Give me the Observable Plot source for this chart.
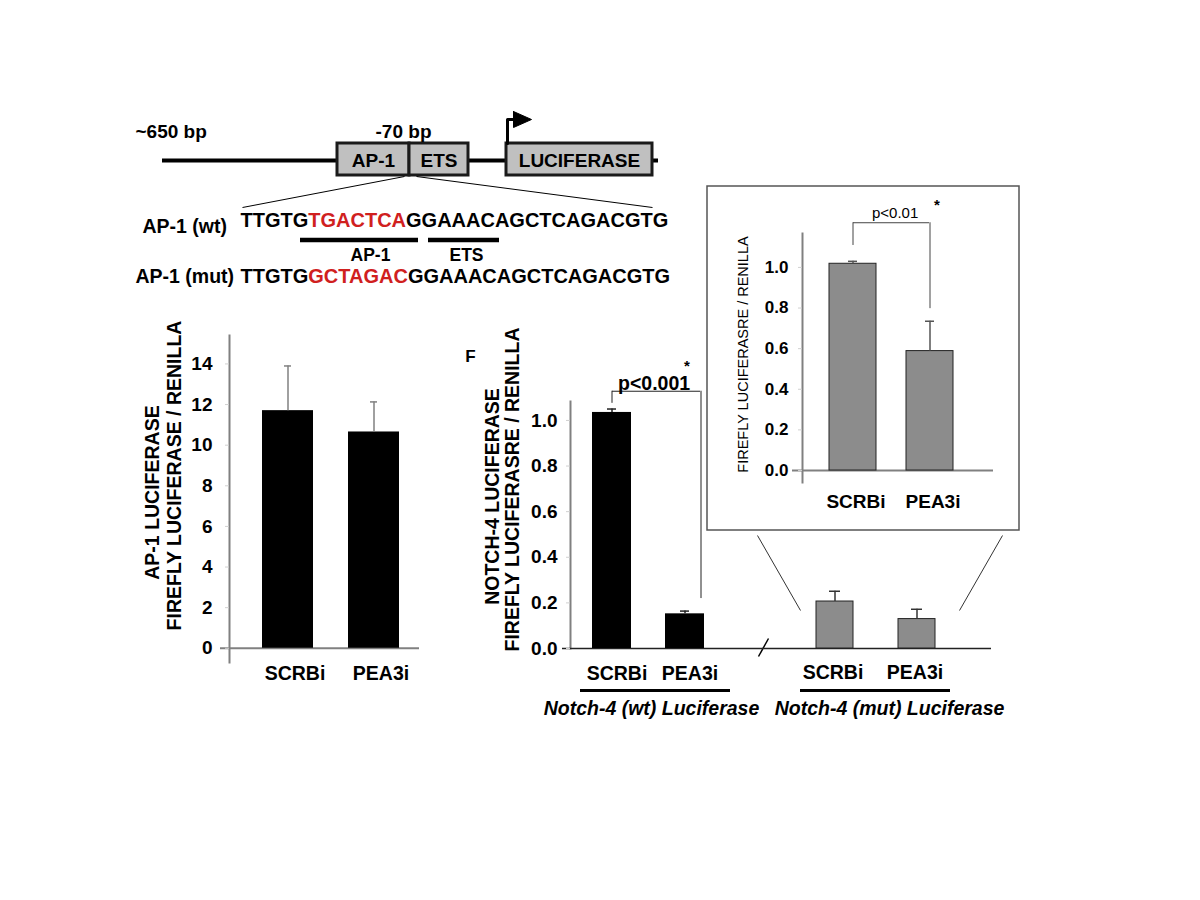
<!DOCTYPE html>
<html><head><meta charset="utf-8">
<script src="https://cdn.jsdelivr.net/npm/d3@7"></script>
<script src="https://cdn.jsdelivr.net/npm/@observablehq/plot@0.6"></script>
<style>
html,body{margin:0;padding:0;background:#fff;}
#root{position:relative;width:1200px;height:900px;overflow:hidden;background:#fff;}
#root svg{position:absolute;}
</style></head><body><div id="root"></div>
<script>
const FONT = '"Liberation Sans", Arial, Helvetica, sans-serif';

// ---------------- data ----------------
const treatments = ["SCRBi", "PEA3i"];
const ap1Values = [11.7, 10.65];
const ap1Errors = [2.2, 1.48];
const ap1Ticks = [0, 2, 4, 6, 8, 10, 12, 14];
const notchWtValues = [1.035, 0.152];
const notchWtErrors = [0.015, 0.012];
const notchMutValues = [0.206, 0.129];
const notchMutErrors = [0.045, 0.043];
const insetValues = [1.018, 0.588];
const insetErrors = [0.012, 0.147];
const notchTicks = [0, 0.2, 0.4, 0.6, 0.8, 1.0];
const seqWt = ["TTGTG", "TGACTCA", "GGAAACAGCTCAGACGTG"];
const seqMut = ["TTGTG", "GCTAGAC", "GGAAACAGCTCAGACGTG"];
const wtBracket = {label: "p<0.001", top: 1.128, leftEnd: 1.075, rightEnd: 0.219};
const insetBracket = {label: "p<0.01", top: 1.22, leftEnd: 1.108, rightEnd: 0.797};
const groupLabels = ["Notch-4 (wt) Luciferase", "Notch-4 (mut) Luciferase"];

const rows = (vals, errs) => treatments.map((t, i) => ({t, v: vals[i], e: errs[i]}));
const ap1 = rows(ap1Values, ap1Errors);
const wt = rows(notchWtValues, notchWtErrors);
const mut = rows(notchMutValues, notchMutErrors);
const inset = rows(insetValues, insetErrors);

const root = document.getElementById("root");
const baseStyle = {background: "transparent", fontFamily: FONT, color: "black", overflow: "visible"};
function place(svg, left, top) {
  svg.style.left = left + "px";
  svg.style.top = top + "px";
  root.append(svg);
}
const f1 = d3.format(".1f");

// ---------------- overlay: schematic & annotations ----------------
const ctx = document.createElement("canvas").getContext("2d");
function segs(parts, x0, y, size) {
  ctx.font = `bold ${size}px ${FONT}`;
  let x = x0;
  return parts.map((s, i) => {
    const o = {text: s, x, y, color: i === 1 ? "#d0201e" : "black"};
    x += ctx.measureText(s).width;
    return o;
  });
}
const seqSegs = [...segs(seqWt, 240, 220.3, 20), ...segs(seqMut, 240, 275.8, 20)];
const boxes = [
  {label: "AP-1", x1: 337, x2: 409},
  {label: "ETS", x1: 409, x2: 468},
  {label: "LUCIFERASE", x1: 506, x2: 652}
];

place(Plot.plot({
  width: 1200, height: 900, margin: 0, style: baseStyle,
  x: {type: "identity", axis: null}, y: {type: "identity", axis: null}, color: {type: "identity"},
  marks: [
    // promoter line and boxes
    Plot.ruleY([160], {x1: 162, x2: 658, stroke: "black", strokeWidth: 4}),
    Plot.rect(boxes, {x1: "x1", x2: "x2", y1: 143, y2: 175, fill: "#c0c0c0", stroke: "#1a1a1a", strokeWidth: 3}),
    Plot.text(boxes, {x: d => (d.x1 + d.x2) / 2, y: 160.5, text: "label", fontSize: 19, fontWeight: "bold"}),
    Plot.line([[507, 143], [507, 119], [515, 119]], {stroke: "black", strokeWidth: 3}),
    Plot.line([[513, 111], [531, 119], [513, 127], [513, 111]], {stroke: "black", fill: "black", strokeWidth: 1}),
    Plot.text(["~650 bp"], {x: 135, y: 131, text: d => d, textAnchor: "start", fontSize: 19, fontWeight: "bold"}),
    Plot.text(["-70 bp"], {x: 403, y: 131, text: d => d, fontSize: 19, fontWeight: "bold"}),
    Plot.link([[404, 176, 242, 207], [416, 176, 652, 207]], {x1: d => d[0], y1: d => d[1], x2: d => d[2], y2: d => d[3], stroke: "black", strokeWidth: 1}),
    // sequences
    Plot.text(seqSegs, {x: "x", y: "y", text: "text", fill: "color", textAnchor: "start", fontSize: 20, fontWeight: "bold"}),
    Plot.text(["AP-1 (wt)"], {x: 142, y: 226, text: d => d, textAnchor: "start", fontSize: 19.5, fontWeight: "bold"}),
    Plot.text(["AP-1 (mut)"], {x: 135, y: 276.5, text: d => d, textAnchor: "start", fontSize: 19.5, fontWeight: "bold"}),
    Plot.ruleY([{a: 300, b: 418}, {a: 428, b: 499}], {y: 239.5, x1: "a", x2: "b", stroke: "black", strokeWidth: 4.5}),
    Plot.text([{t: "AP-1", x: 370}, {t: "ETS", x: 466}], {x: "x", y: 255, text: "t", fontSize: 17.5, fontWeight: "bold"}),
    // axis titles
    Plot.text(["AP-1 LUCIFERASE"], {x: 152, y: 492, text: d => d, rotate: -90, fontSize: 19.5, fontWeight: "bold"}),
    Plot.text(["FIREFLY LUCIFERASE / RENILLA"], {x: 174, y: 475, text: d => d, rotate: -90, fontSize: 19.5, fontWeight: "bold"}),
    Plot.text(["NOTCH-4 LUCIFERASE"], {x: 492, y: 496, text: d => d, rotate: -90, fontSize: 19.5, fontWeight: "bold"}),
    Plot.text(["FIREFLY LUCIFERASRE / RENILLA"], {x: 512, y: 489, text: d => d, rotate: -90, fontSize: 19.5, fontWeight: "bold"}),
    Plot.text(["FIREFLY LUCIFERASRE / RENILLA"], {x: 743, y: 354, text: d => d, rotate: -90, fontSize: 14.5}),
    Plot.text(["F"], {x: 470, y: 356, text: d => d, fontSize: 17, fontWeight: "bold"}),
    // group underlines and labels
    Plot.ruleY([{a: 580, b: 730}, {a: 800, b: 950}], {y: 690, x1: "a", x2: "b", stroke: "black", strokeWidth: 3}),
    Plot.text(groupLabels, {x: (d, i) => [651, 889][i], y: 708, text: d => d, fontSize: 19.5, fontWeight: "bold", fontStyle: "italic"}),
    // axis break
    Plot.link([[758, 656, 768, 638]], {x1: d => d[0], y1: d => d[1], x2: d => d[2], y2: d => d[3], stroke: "black", strokeWidth: 1.5}),
    // inset box and zoom lines
    Plot.rect([{}], {x1: 707, x2: 1019, y1: 186, y2: 530, fill: "none", stroke: "#555", strokeWidth: 1.5}),
    Plot.link([[757, 535, 800, 610], [1002, 535, 959, 610]], {x1: d => d[0], y1: d => d[1], x2: d => d[2], y2: d => d[3], stroke: "#333", strokeWidth: 1})
  ]
}), 0, 0);

// ---------------- AP-1 luciferase chart ----------------
place(Plot.plot({
  width: 320, height: 400, marginTop: 35, marginBottom: 38, marginLeft: 99, marginRight: 18,
  style: baseStyle,
  x: {type: "band", domain: treatments, paddingInner: 0.402, paddingOuter: 0.368, label: null},
  y: {domain: [-0.7, 15.4], label: null},
  marks: [
    Plot.frame({anchor: "left", stroke: "#808080", strokeWidth: 2}),
    Plot.ruleY([0], {stroke: "#808080", strokeWidth: 2, insetLeft: -9, insetRight: 13}),
    Plot.barY(ap1, {x: "t", y: "v", fill: "black"}),
    Plot.ruleX(ap1, {x: "t", y1: "v", y2: d => d.v + d.e, stroke: "#808080", strokeWidth: 1.5}),
    Plot.tickY(ap1, {x: "t", y: d => d.v + d.e, stroke: "#808080", strokeWidth: 1.5, inset: 22}),
    Plot.axisY(ap1Ticks, {tickSize: 4, tickPadding: 13, stroke: "#d0d0d0", fill: "black", fontSize: 19, fontWeight: "bold", label: null}),
    Plot.axisX({tickSize: 0, tickPadding: 4, fill: "black", fontSize: 19.5, fontWeight: "bold", dx: 7, label: null})
  ]
}), 130, 300);

// ---------------- Notch-4 (wt) ----------------
place(Plot.plot({
  width: 320, height: 390, marginTop: 71, marginBottom: 72, marginLeft: 130, marginRight: 34,
  style: baseStyle,
  x: {type: "band", domain: treatments, paddingInner: 0.459, paddingOuter: 0.284, label: null},
  y: {domain: [0, 1.083], label: null},
  marks: [
    Plot.frame({anchor: "left", stroke: "#808080", strokeWidth: 2}),
    Plot.ruleY([0], {stroke: "#222", strokeWidth: 1.5, insetLeft: -8, insetRight: -34}),
    Plot.barY(wt, {x: "t", y: "v", fill: "black"}),
    Plot.ruleX(wt, {x: "t", y1: "v", y2: d => d.v + d.e, stroke: "#222", strokeWidth: 1.5}),
    Plot.tickY(wt, {x: "t", y: d => d.v + d.e, stroke: "#222", strokeWidth: 1.5, inset: 15}),
    // significance bracket (rule spans band start..band end, so inset by half a band)
    Plot.ruleX([treatments[0]], {x: d => d, y1: wtBracket.leftEnd, y2: wtBracket.top, stroke: "#222", strokeWidth: 1}),
    Plot.ruleX([treatments[1]], {x: d => d, y1: wtBracket.rightEnd, y2: wtBracket.top, dx: 16, stroke: "#222", strokeWidth: 1}),
    Plot.ruleY([wtBracket.top], {x1: () => treatments[0], x2: () => treatments[1], insetLeft: 20, insetRight: 4, stroke: "#222", strokeWidth: 1}),
    Plot.text([wtBracket.label], {x: () => treatments[0], y: 1.162, text: d => d, textAnchor: "start", dx: 6, fontSize: 19.5, fontWeight: "bold"}),
    Plot.text(["*"], {x: () => treatments[1], y: 1.24, text: d => d, dx: 2, fontSize: 15, fontWeight: "bold"}),
    Plot.axisY(notchTicks, {tickFormat: f1, tickSize: 4, tickPadding: 9, stroke: "#d0d0d0", fill: "black", fontSize: 19, fontWeight: "bold", label: null}),
    Plot.axisX({tickSize: 0, tickPadding: 18, fill: "black", fontSize: 19.5, fontWeight: "bold", dx: 5, label: null})
  ]
}), 440, 330);

// ---------------- Notch-4 (mut) ----------------
place(Plot.plot({
  width: 250, height: 390, marginTop: 71, marginBottom: 72, marginLeft: 20, marginRight: 40,
  style: baseStyle,
  x: {type: "band", domain: treatments, paddingInner: 0.549, paddingOuter: 0.433, label: null},
  y: {domain: [0, 1.083], axis: null, label: null},
  marks: [
    Plot.ruleY([0], {stroke: "#222", strokeWidth: 1.5, insetLeft: -20, insetRight: -21}),
    Plot.barY(mut, {x: "t", y: "v", fill: "#8c8c8c", stroke: "#222", strokeWidth: 1}),
    Plot.ruleX(mut, {x: "t", y1: "v", y2: d => d.v + d.e, stroke: "#333", strokeWidth: 1.5}),
    Plot.tickY(mut, {x: "t", y: d => d.v + d.e, stroke: "#333", strokeWidth: 1.5, inset: 13}),
    Plot.axisX({tickSize: 0, tickPadding: 17, fill: "black", fontSize: 19.5, fontWeight: "bold", dx: -2, label: null})
  ]
}), 760, 330);

// ---------------- inset (mut, rescaled) ----------------
place(Plot.plot({
  width: 312, height: 344, marginTop: 47, marginBottom: 48, marginLeft: 95, marginRight: 38.5,
  style: baseStyle,
  x: {type: "band", domain: treatments, paddingInner: 0.385, paddingOuter: 0.34, label: null},
  y: {domain: [-0.059, 1.167], label: null},
  marks: [
    Plot.frame({anchor: "left", stroke: "#808080", strokeWidth: 2}),
    Plot.ruleY([0], {stroke: "#808080", strokeWidth: 2, insetLeft: -10, insetRight: -12.5}),
    Plot.barY(inset, {x: "t", y: "v", fill: "#8c8c8c", stroke: "#222", strokeWidth: 1}),
    Plot.ruleX(inset, {x: "t", y1: "v", y2: d => d.v + d.e, stroke: "#555", strokeWidth: 1.5}),
    Plot.tickY(inset, {x: "t", y: d => d.v + d.e, stroke: "#555", strokeWidth: 1.5, inset: 19}),
    Plot.ruleX([treatments[0]], {x: d => d, y1: insetBracket.leftEnd, y2: insetBracket.top, stroke: "#444", strokeWidth: 1}),
    Plot.ruleX([treatments[1]], {x: d => d, y1: insetBracket.rightEnd, y2: insetBracket.top, stroke: "#444", strokeWidth: 1}),
    Plot.ruleY([insetBracket.top], {x1: () => treatments[0], x2: () => treatments[1], insetLeft: 24, insetRight: 24, stroke: "#444", strokeWidth: 1}),
    Plot.text([insetBracket.label], {x: () => treatments[0], y: 1.266, text: d => d, textAnchor: "start", dx: 19, fontSize: 15}),
    Plot.text(["*"], {x: () => treatments[1], y: 1.305, text: d => d, dx: 7, fontSize: 15, fontWeight: "bold"}),
    Plot.axisY(notchTicks, {tickFormat: f1, tickSize: 4, tickPadding: 10, stroke: "#d0d0d0", fill: "black", fontSize: 17, fontWeight: "bold", label: null}),
    Plot.axisX({tickSize: 0, tickPadding: 12, fill: "black", fontSize: 19, fontWeight: "bold", dx: 3, label: null})
  ]
}), 707, 186);
</script></body></html>
